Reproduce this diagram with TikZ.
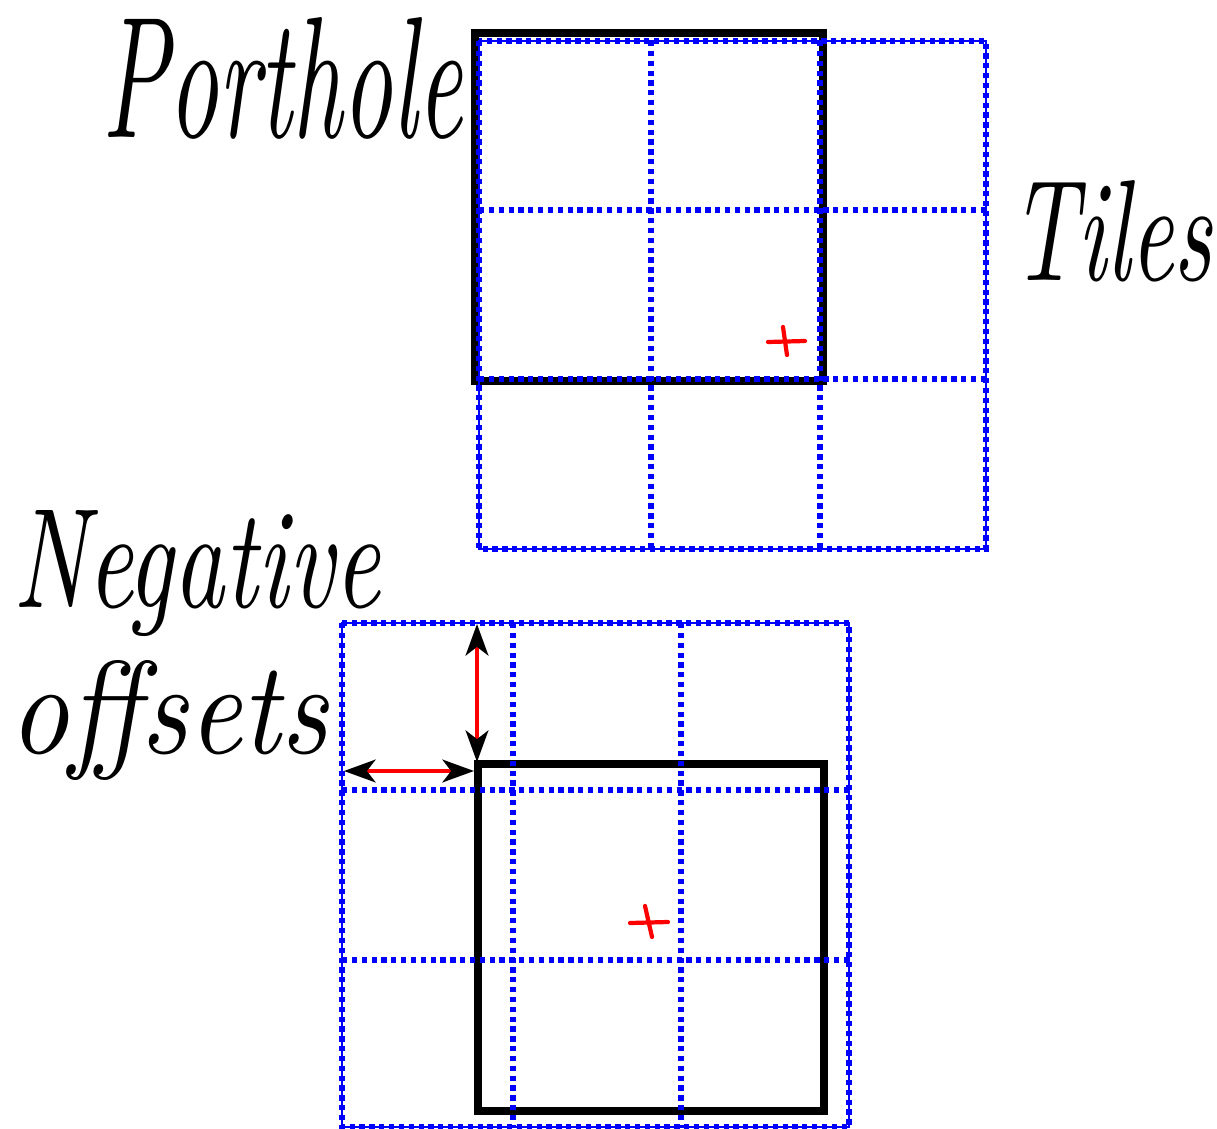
\documentclass[tikz,border=0pt]{standalone}
\usetikzlibrary{arrows.meta}
\tikzset{
  tileline/.style={draw=blue, line width=3.2pt, dash pattern=on 3pt off 2.6pt},
  tileedge/.style={draw=blue, line width=1.3pt},
  porthole/.style={draw=black, line width=4.2pt},
  offsetarrow/.style={draw=red, line width=2pt,
    {Stealth[black,length=18pt,width=13pt,inset=5pt]}-{Stealth[black,length=18pt,width=13pt,inset=5pt]}},
  centremark/.style={draw=red, line width=2.4pt, line cap=round},
  label/.style={inner sep=0pt, outer sep=0pt, anchor=base west, font=\itshape}
}
\begin{document}
\begin{tikzpicture}[x=0.02cm,y=-0.02cm]
\useasboundingbox (0,0) rectangle (1217,1129);
% ---------- portholes (under the tile grids) ----------
\draw[porthole] (475,33) rectangle (823,381);
\draw[porthole] (478,764) rectangle (824,1111);
% ---------- top grid ----------
\draw[tileedge] (479,41) rectangle (986,549);
\draw[tileline] (479,41) rectangle (986,549);
\draw[tileline] (651,41) -- (651,549);
\draw[tileline] (820,41) -- (820,549);
\draw[tileline] (479,210) -- (986,210);
\draw[tileline] (479,379) -- (986,379);
\draw[centremark] (768,342) -- (805,341);
\draw[centremark] (783,327) -- (787,355);
% ---------- bottom grid ----------
\draw[tileedge] (342,623) rectangle (849,1127);
\draw[tileline] (342,623) rectangle (849,1127);
\draw[tileline] (513,623) -- (513,1127);
\draw[tileline] (681,623) -- (681,1127);
\draw[tileline] (342,790) -- (849,790);
\draw[tileline] (342,960) -- (849,960);
\draw[centremark] (630,923) -- (668,922);
\draw[centremark] (645,906) -- (652,937);
% ---------- offset arrows ----------
\coordinate (vtop) at (477,624);
\coordinate (vbot) at (477,762);
\coordinate (hleft) at (344,771);
\coordinate (hright) at (474,771);
\draw[offsetarrow] (vtop) -- (vbot);
\draw[offsetarrow] (hleft) -- (hright);
% ---------- labels ----------
\node[label] (porthole) at (102,137) {\resizebox{7.2cm}{2.4cm}{Porthole}};
\node[label] (tiles) at (1010,280) {\resizebox{4.04cm}{2cm}{Tiles}};
\node[label] (negative) at (13,607) {\resizebox{7.34cm}{1.94cm}{Negative}};
\node[label] (offsets) at (10,753) {\resizebox{6.36cm}{1.86cm}{offsets}};
\end{tikzpicture}
\end{document}
